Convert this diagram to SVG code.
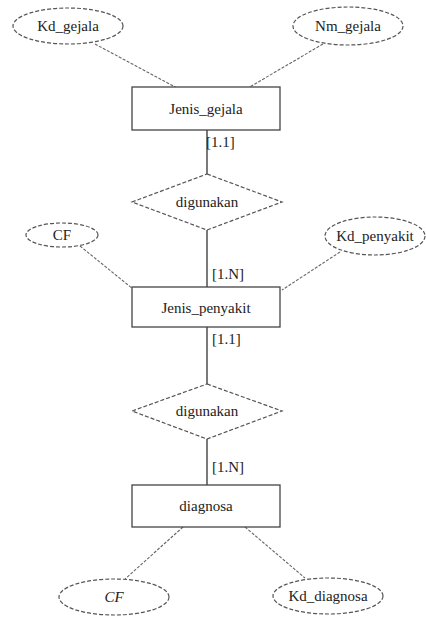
<svg xmlns="http://www.w3.org/2000/svg" width="426" height="617" viewBox="0 0 426 617">
<style>
.attr{fill:#fff;stroke:#555;stroke-width:1.2;stroke-dasharray:4 2}
.rel{fill:#fff;stroke:#555;stroke-width:1.2;stroke-dasharray:4 2}
.ent{fill:#fff;stroke:#444;stroke-width:1.3}
text{font-size:15px;fill:#222}
.t{text-anchor:middle;dominant-baseline:central}
.dl{stroke:#666;stroke-width:1.1;stroke-dasharray:3 1.5;fill:none}
.sl{stroke:#333;stroke-width:1.3;fill:none}
</style>
<rect width="426" height="617" fill="#fff"/>
<g font-family="Liberation Serif, DejaVu Serif, serif">
<g id="connectors">
<line class="dl" x1="95" y1="44" x2="177" y2="88"/>
<line class="dl" x1="323" y1="44" x2="248" y2="88"/>
<line class="sl" x1="207" y1="130" x2="207" y2="174"/>
<line class="sl" x1="207" y1="230" x2="207" y2="287"/>
<line class="dl" x1="80" y1="246" x2="133" y2="289"/>
<line class="dl" x1="340" y1="252" x2="282" y2="290"/>
<line class="sl" x1="207" y1="327" x2="207" y2="384"/>
<line class="sl" x1="207" y1="439" x2="207" y2="485"/>
<line class="dl" x1="183" y1="527" x2="125" y2="579"/>
<line class="dl" x1="245" y1="527" x2="305" y2="578"/>
<text x="206" y="147">[1.1]</text>
<text x="212" y="279">[1.N]</text>
<text x="212" y="344">[1.1]</text>
<text x="212" y="472">[1.N]</text>
</g>
<g id="kd_gejala"><ellipse class="attr" cx="68" cy="26" rx="55" ry="18"/><text class="t" x="68" y="26">Kd_gejala</text></g>
<g id="nm_gejala"><ellipse class="attr" cx="348" cy="26" rx="55" ry="19"/><text class="t" x="348" y="26">Nm_gejala</text></g>
<g id="jenis_gejala"><rect class="ent" x="132" y="87" width="148" height="43"/><text class="t" x="206" y="109">Jenis_gejala</text></g>
<g id="digunakan1"><polygon class="rel" points="207,174 282,202 207,230 132,202"/><text class="t" x="207" y="202">digunakan</text></g>
<g id="cf1"><ellipse class="attr" cx="62" cy="235" rx="36" ry="12"/><text class="t" x="62" y="235">CF</text></g>
<g id="kd_penyakit"><ellipse class="attr" cx="375" cy="236" rx="50" ry="19"/><text class="t" x="375" y="236">Kd_penyakit</text></g>
<g id="jenis_penyakit"><rect class="ent" x="132" y="287" width="148" height="40"/><text class="t" x="206" y="308">Jenis_penyakit</text></g>
<g id="digunakan2"><polygon class="rel" points="207,384 282,411 207,439 132,411"/><text class="t" x="207" y="411">digunakan</text></g>
<g id="diagnosa"><rect class="ent" x="132" y="485" width="148" height="42"/><text class="t" x="206" y="506">diagnosa</text></g>
<g id="cf2"><ellipse class="attr" cx="114" cy="597" rx="55" ry="18"/><text class="t" x="114" y="597" font-style="italic">CF</text></g>
<g id="kd_diagnosa"><ellipse class="attr" cx="328" cy="596" rx="55" ry="18"/><text class="t" x="328" y="596">Kd_diagnosa</text></g>
</g>
</svg>
